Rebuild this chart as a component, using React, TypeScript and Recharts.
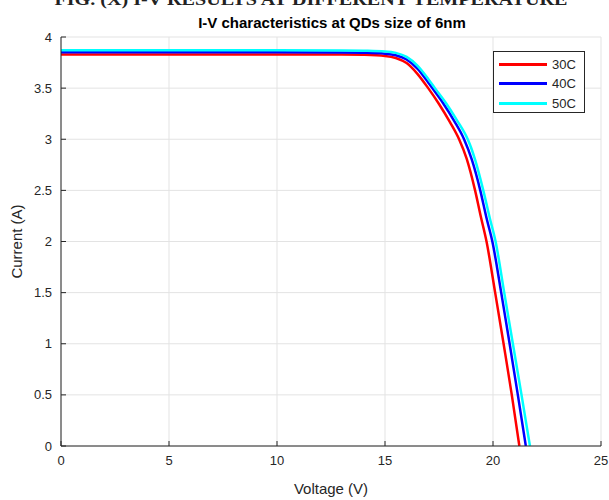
import React from 'react';
import { LineChart, Line, XAxis, YAxis, CartesianGrid } from 'recharts';

// I-V curves (voltage in V, current in A)
const voltage30 = [0, 10, 13, 14, 15, 15.5, 16, 16.5, 17, 17.5, 18, 18.43, 18.78, 19.17, 19.44, 19.7, 20.1, 20.49, 20.87, 21.22];
const current30 = [3.83, 3.83, 3.829, 3.826, 3.815, 3.795, 3.745, 3.64, 3.5, 3.345, 3.17, 3.0, 2.81, 2.5, 2.24, 2.0, 1.5, 1.0, 0.5, 0];

const voltage40 = [0, 10, 13, 14, 15, 15.5, 16, 16.5, 17, 17.19, 17.7, 18.2, 18.66, 19.02, 19.41, 19.7, 19.97, 20.38, 20.77, 21.15, 21.52];
const current40 = [3.85, 3.85, 3.849, 3.846, 3.837, 3.822, 3.78, 3.69, 3.555, 3.5, 3.35, 3.18, 3.0, 2.8, 2.5, 2.23, 2.0, 1.5, 1.0, 0.5, 0];

const voltage50 = [0, 10, 13, 14, 15, 15.5, 16, 16.5, 17, 17.31, 17.82, 18.32, 18.83, 19.0, 19.17, 19.55, 19.85, 20.12, 20.52, 20.92, 21.32, 21.71];
const current50 = [3.87, 3.87, 3.869, 3.866, 3.859, 3.845, 3.805, 3.72, 3.59, 3.5, 3.355, 3.19, 3.0, 2.91, 2.8, 2.5, 2.23, 2.0, 1.5, 1.0, 0.5, 0];

const seriesNames = ['30C', '40C', '50C'];
const seriesColors = ['#ff0000', '#0000ff', '#00ffff'];

const xTicks = [0, 5, 10, 15, 20, 25];
const yTicks = [0, 0.5, 1, 1.5, 2, 2.5, 3, 3.5, 4];

const toPoints = (v: number[], c: number[]) => v.map((x, i) => ({ v: x, i: c[i] }));
const series = [
  toPoints(voltage30, current30),
  toPoints(voltage40, current40),
  toPoints(voltage50, current50),
];

const FONT = '"Liberation Sans", Arial, Helvetica, sans-serif';
const AXIS = '#262626';
const tickStyle = { fill: AXIS, fontSize: 13, fontFamily: FONT };

const App = () => {
  return (
    <div style={{ position: 'absolute', left: 0, top: 0, width: 609, height: 500, overflow: 'hidden', background: '#fff' }}>
      <LineChart width={609} height={500} margin={{ top: 37, right: 8, left: 16, bottom: 4 }}>
        <CartesianGrid stroke="#e3e3e3" strokeWidth={1} />
        <XAxis
          dataKey="v"
          type="number"
          domain={[0, 25]}
          ticks={xTicks}
          allowDataOverflow
          height={50}
          stroke={AXIS}
          tickSize={-5}
          tickMargin={15}
          tick={tickStyle}
          label={{ value: 'Voltage (V)', position: 'insideBottom', offset: 2, style: { fill: AXIS, fontSize: 15, fontFamily: FONT } }}
        />
        <XAxis
          xAxisId="top"
          orientation="top"
          type="number"
          domain={[0, 25]}
          ticks={xTicks}
          allowDataOverflow
          height={0}
          stroke={AXIS}
          tickSize={-5}
          tick={false}
        />
        <YAxis
          type="number"
          domain={[0, 4]}
          ticks={yTicks}
          allowDataOverflow
          width={45}
          stroke={AXIS}
          tickSize={-5}
          tickMargin={14}
          tick={tickStyle}
          label={{ value: 'Current (A)', angle: -90, position: 'insideLeft', offset: 1, style: { fill: AXIS, fontSize: 15, fontFamily: FONT, textAnchor: 'middle' } }}
        />
        <YAxis
          yAxisId="right"
          orientation="right"
          type="number"
          domain={[0, 4]}
          ticks={yTicks}
          allowDataOverflow
          width={0}
          stroke={AXIS}
          tickSize={-5}
          tick={false}
        />
        {series.map((pts, k) => (
          <Line
            key={seriesNames[k]}
            data={pts}
            dataKey="i"
            name={seriesNames[k]}
            type="monotone"
            stroke={seriesColors[k]}
            strokeWidth={2.5}
            dot={false}
            isAnimationActive={false}
          />
        ))}
      </LineChart>

      {/* caption cut off at the top of the figure, and the title */}
      <svg width={609} height={40} style={{ position: 'absolute', left: 0, top: 0, pointerEvents: 'none' }}>
        <text
          x={311}
          y={5}
          textAnchor="middle"
          textLength={513}
          lengthAdjust="spacingAndGlyphs"
          style={{ fontFamily: '"Liberation Serif", "Times New Roman", serif', fontWeight: 700, fontSize: 17, fill: '#222' }}
        >
          FIG. (X) I-V RESULTS AT DIFFERENT TEMPERATURE
        </text>
        <text x={332} y={28} textAnchor="middle" style={{ fontFamily: FONT, fontWeight: 700, fontSize: 15, fill: '#000' }}>
          I-V characteristics at QDs size of 6nm
        </text>
      </svg>

      {/* legend box */}
      <div
        style={{
          position: 'absolute',
          left: 493,
          top: 51,
          width: 90,
          height: 60,
          border: `1px solid ${AXIS}`,
          background: '#fff',
          fontFamily: FONT,
          fontSize: 13,
          color: AXIS,
        }}
      >
        {seriesNames.map((name, k) => (
          <div key={name} style={{ position: 'absolute', left: 5, top: 3 + k * 19.5, height: 18, display: 'flex', alignItems: 'center' }}>
            <span style={{ display: 'inline-block', width: 48, height: 3, background: seriesColors[k], marginRight: 5 }} />
            <span>{name}</span>
          </div>
        ))}
      </div>
    </div>
  );
};

export default App;
